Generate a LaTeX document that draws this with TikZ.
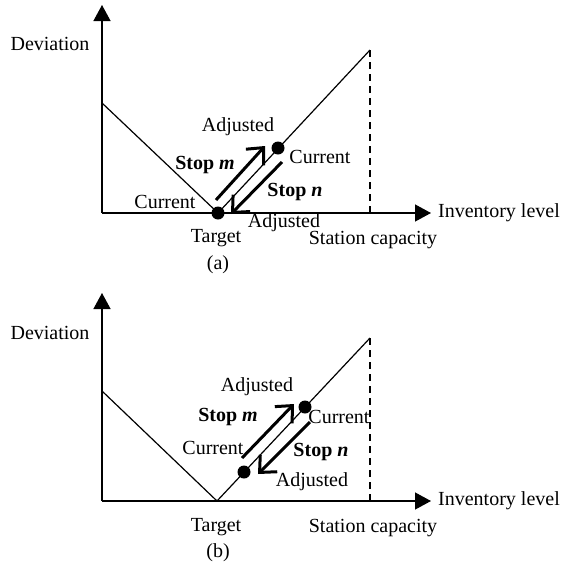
\documentclass[tikz,border=0pt]{standalone}
\usepackage{fontspec}
\setmainfont{Liberation Serif}
\usetikzlibrary{arrows.meta}
\begin{document}
\begin{tikzpicture}[x=1pt,y=-1pt,
  every node/.style={font=\fontsize{20}{24}\selectfont, inner sep=0pt},
  axis/.style={line width=1.3pt,-{Triangle[length=16pt,width=17pt]}},
  curve/.style={line width=1.2pt},
  capline/.style={line width=1.6pt,dash pattern=on 7pt off 5pt},
  stoparrow/.style={line width=3pt,-{Straight Barb[length=13pt,width=24pt,line width=3pt]}},
  dot/.style={circle,fill=black,minimum size=13pt,inner sep=0pt},
  lbl/.style={anchor=center}]
\useasboundingbox (0,0) rectangle (562,571);
% ---------- panel (a) ----------
\coordinate (oa) at (102,213);
\coordinate (ya) at (102,5);
\coordinate (xa) at (431,213);
\coordinate (la) at (102,103);
\coordinate (ra) at (370,50);
\coordinate (ca) at (370,213);
\draw[axis] (oa) -- (ya);
\draw[axis] (oa) -- (xa);
\draw[capline] (ra) -- (ca);
\node[dot] (ta) at (218,213) {};
\draw[curve] (la) -- (ta.center) -- (ra);
\node[dot] (ua) at (278,148) {};
\coordinate (ma1) at (216,200);
\coordinate (ma2) at (265,146);
\coordinate (na1) at (282,162);
\coordinate (na2) at (231,214);
\draw[stoparrow] (ma1) -- (ma2);
\draw[stoparrow] (na1) -- (na2);
\node[lbl] (deva) at (50,44) {Deviation};
\node[anchor=west] (inva) at (438,213) {Inventory level};
\node[lbl] (tara) at (216,238) {Target};
\node[lbl] (stca) at (373,240) {Station capacity};
\node[lbl] (capa) at (218,265) {(a)};
\node[lbl] (adja1) at (238,127) {Adjusted};
\node[lbl] (cura1) at (320,157) {Current};
\node[lbl] (stma) at (205,165) {\textbf{Stop \textit{m}}};
\node[lbl] (stna) at (295,192) {\textbf{Stop \textit{n}}};
\node[lbl] (cura2) at (165,202) {Current};
\node[lbl] (adja2) at (284,223) {Adjusted};
% ---------- panel (b) ----------
\coordinate (ob) at (102,501);
\coordinate (yb) at (102,293);
\coordinate (xb) at (431,501);
\coordinate (lb) at (102,391);
\coordinate (rb) at (370,338);
\coordinate (cb) at (370,501);
\coordinate (tb) at (217,501);
\draw[axis] (ob) -- (yb);
\draw[axis] (ob) -- (xb);
\draw[capline] (rb) -- (cb);
\draw[curve] (lb) -- (tb) -- (rb);
\node[dot] (ub) at (305,407) {};
\node[dot] (db) at (244,472) {};
\coordinate (mb1) at (242,458);
\coordinate (mb2) at (294,404);
\coordinate (nb1) at (310,422);
\coordinate (nb2) at (258,474);
\draw[stoparrow] (mb1) -- (mb2);
\draw[stoparrow] (nb1) -- (nb2);
\node[lbl] (devb) at (50,333) {Deviation};
\node[anchor=west] (invb) at (438,501) {Inventory level};
\node[lbl] (tarb) at (216,527) {Target};
\node[lbl] (stcb) at (373,528) {Station capacity};
\node[lbl] (capb) at (218,553) {(b)};
\node[lbl] (adjb1) at (257,387) {Adjusted};
\node[lbl] (curb1) at (339,417) {Current};
\node[lbl] (stmb) at (228,417) {\textbf{Stop \textit{m}}};
\node[lbl] (curb2) at (213,448) {Current};
\node[lbl] (stnb) at (321,452) {\textbf{Stop \textit{n}}};
\node[lbl] (adjb2) at (312,482) {Adjusted};
\end{tikzpicture}
\end{document}
